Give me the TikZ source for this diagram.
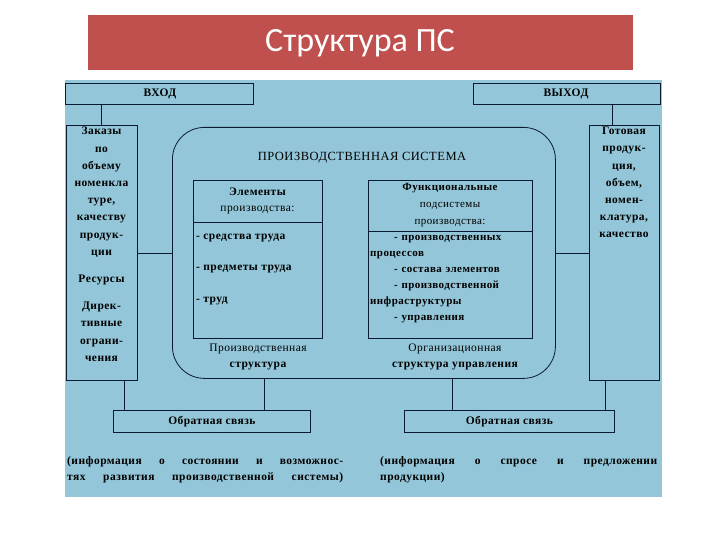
\documentclass[tikz,border=0pt]{standalone}
\usepackage{fontspec}
\setmainfont[LetterSpace=4]{Liberation Serif}
\newfontfamily\titlefont{Carlito}
\definecolor{bg}{HTML}{93C6D8}
\definecolor{tred}{HTML}{C0504D}
\definecolor{ln}{HTML}{0A1A30}
\begin{document}
\begin{tikzpicture}[x=1pt,y=-1pt,
  bx/.style={draw=ln,line width=0.8pt},
  con/.style={draw=ln,line width=0.8pt},
  txt/.style={inner sep=0pt,font=\fontsize{11.5}{16.5}\selectfont,text=black,align=center}]
\useasboundingbox (0,0) rectangle (720,540);
\fill[white] (0,0) rectangle (720,540);
\fill[tred] (88,15) rectangle (633,70);
\node[font=\titlefont\fontsize{34}{36}\selectfont,text=white] (title) at (360,43) {Структура ПС};
\fill[bg] (65,80) rectangle (662,497);
% top boxes
\draw[bx] (65,83) rectangle (253,104); \node[txt] (vhod) at (160,93.5) {\bfseries ВХОД};
\draw[bx] (473,83) rectangle (660,104); \node[txt] (vyhod) at (566,93.5) {\bfseries ВЫХОД};
\coordinate (vhb) at (101,104); \coordinate (vyb) at (612,104);
% side boxes
\node[bx,minimum width=71,minimum height=255,anchor=north west] (L) at (66,125) {};
\node[txt,anchor=north,text width=74,font=\fontsize{11.5}{17.2}\selectfont] at (101.5,127) {\bfseries Заказы\\по\\объему\\номенкла\\туре,\\качеству\\продук-\\ции\\[10pt]Ресурсы\\[10pt]Дирек-\\тивные\\ограни-\\чения};
\node[bx,minimum width=70,minimum height=255,anchor=north west] (R) at (589,125) {};
\node[txt,anchor=north,text width=74,font=\fontsize{11.5}{17.2}\selectfont] at (624,127) {\bfseries Готовая\\продук-\\ция,\\объем,\\номен-\\клатура,\\качество};
\draw[con] (vhb) -- (vhb|-L.north);
\draw[con] (vyb) -- (vyb|-R.north);
% system
\node[bx,rounded corners=32,minimum width=383,minimum height=251,anchor=north west] (S) at (172,127) {};
\node[txt,font=\fontsize{12.5}{15}\selectfont] (stitle) at (362,158) {ПРОИЗВОДСТВЕННАЯ СИСТЕМА};
\draw[con] (L.east|-0,253) -- (S.west|-0,253);
\draw[con] (S.east|-0,253) -- (R.west|-0,253);
% elements
\node[bx,minimum width=129,minimum height=158,anchor=north west] (E) at (193,180) {};
\draw[con] (193,222) -- (322,222);
\node[txt] at (257.5,201) {\bfseries Элементы\\производства:};
\node[txt,anchor=west] at (196,238) {\bfseries - средства труда};
\node[txt,anchor=west] at (196,269) {\bfseries - предметы труда};
\node[txt,anchor=west] at (196,301) {\bfseries - труд};
\node[txt] (ps) at (258,357) {Производственная\\\bfseries структура};
% functional
\node[bx,minimum width=164,minimum height=158,anchor=north west] (F) at (368,180) {};
\draw[con] (368,231) -- (532,231);
\node[txt,font=\fontsize{11}{17}\selectfont] at (450,205) {\bfseries Функциональные\\подсистемы\\производства:};
\node[txt,anchor=north west,align=left,text width=162,font=\fontsize{11}{16}\selectfont] at (370,235) {\bfseries\hspace*{24pt}- производственных\\процессов\\\hspace*{24pt}- состава элементов\\\hspace*{24pt}- производственной\\инфраструктуры\\\hspace*{24pt}- управления};
\node[txt] (os) at (455,357) {Организационная\\\bfseries структура управления};
% feedback
\node[bx,minimum width=197,minimum height=22,anchor=north west] (FB1) at (113,410) {};
\node[txt] at (FB1) {\bfseries Обратная связь};
\node[bx,minimum width=210,minimum height=22,anchor=north west] (FB2) at (404,410) {};
\node[txt] at (FB2) {\bfseries Обратная связь};
\draw[con] (124,380) -- (124,410);
\draw[con] (264,378) -- (264,410);
\draw[con] (452,378) -- (452,410);
\draw[con] (605,380) -- (605,410);
\node[txt,anchor=north west,align=left] (i1) at (67,456) {\bfseries\makebox[276pt][s]{(информация о состоянии и возможнос-}\\\bfseries\makebox[276pt][s]{тях развития производственной системы)}};
\node[txt,anchor=north west,align=left] (i2) at (380,456) {\bfseries\makebox[277pt][s]{(информация о спросе и предложении}\\\bfseries продукции)};
\end{tikzpicture}
\end{document}
